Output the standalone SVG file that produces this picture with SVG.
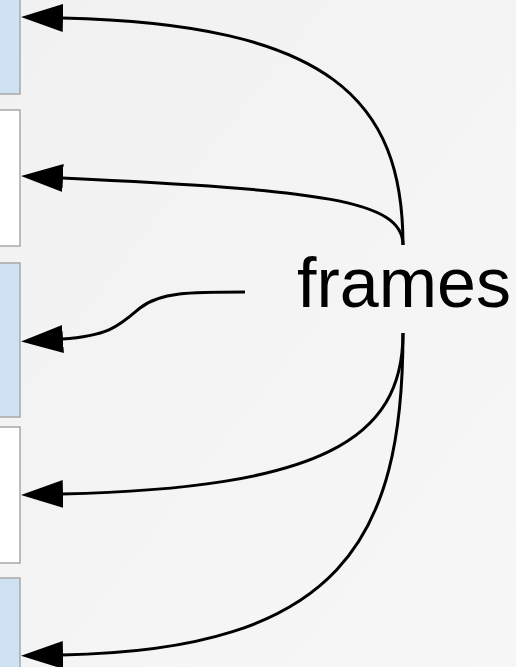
<svg xmlns="http://www.w3.org/2000/svg" width="516" height="667" viewBox="0 0 516 667">
<defs>
<linearGradient id="bg" x1="0" y1="0" x2="1" y2="1">
<stop offset="0" stop-color="#f1f1f1"/>
<stop offset="1" stop-color="#f7f7f7"/>
</linearGradient>
<marker id="ah" markerUnits="userSpaceOnUse" markerWidth="44" markerHeight="30" refX="1" refY="14" orient="auto" viewBox="0 0 44 28">
<path d="M0,0 L42,14 L0,28 Z" fill="#000"/>
</marker>
<style>
.blue{fill:#cfe2f3;stroke:#a8a8a8;stroke-width:1.5}
.white{fill:#ffffff;stroke:#a8a8a8;stroke-width:1.5}
.conn{fill:none;stroke:#000;stroke-width:3;marker-end:url(#ah)}
.lbl{font-family:"Liberation Sans",Arial,sans-serif;font-size:70px;fill:#000}
</style>
</defs>
<rect x="0" y="0" width="516" height="667" fill="url(#bg)"/>
<g id="frame1"><rect class="blue" x="-10" y="-10" width="30" height="104"/></g>
<g id="frame2"><rect class="white" x="-10" y="110" width="30" height="136"/></g>
<g id="frame3"><rect class="blue" x="-10" y="263" width="30" height="154"/></g>
<g id="frame4"><rect class="white" x="-10" y="427" width="30" height="136"/></g>
<g id="frame5"><rect class="blue" x="-10" y="578" width="30" height="100"/></g>
<g id="frames"><text class="lbl" x="404" y="307" text-anchor="middle">frames</text></g>
<g id="connectors">
<path class="conn" d="M403,245 C403,100 330,24 62,18"/>
<path class="conn" d="M403,245 C403,200 320,190 62,178"/>
<path class="conn" d="M245,292 C190,292 160,292 140,308 C120,325 110,336 62,339"/>
<path class="conn" d="M403,333 C403,440 320,488 62,494"/>
<path class="conn" d="M403,333 C403,540 340,650 62,655"/>
</g>
</svg>
